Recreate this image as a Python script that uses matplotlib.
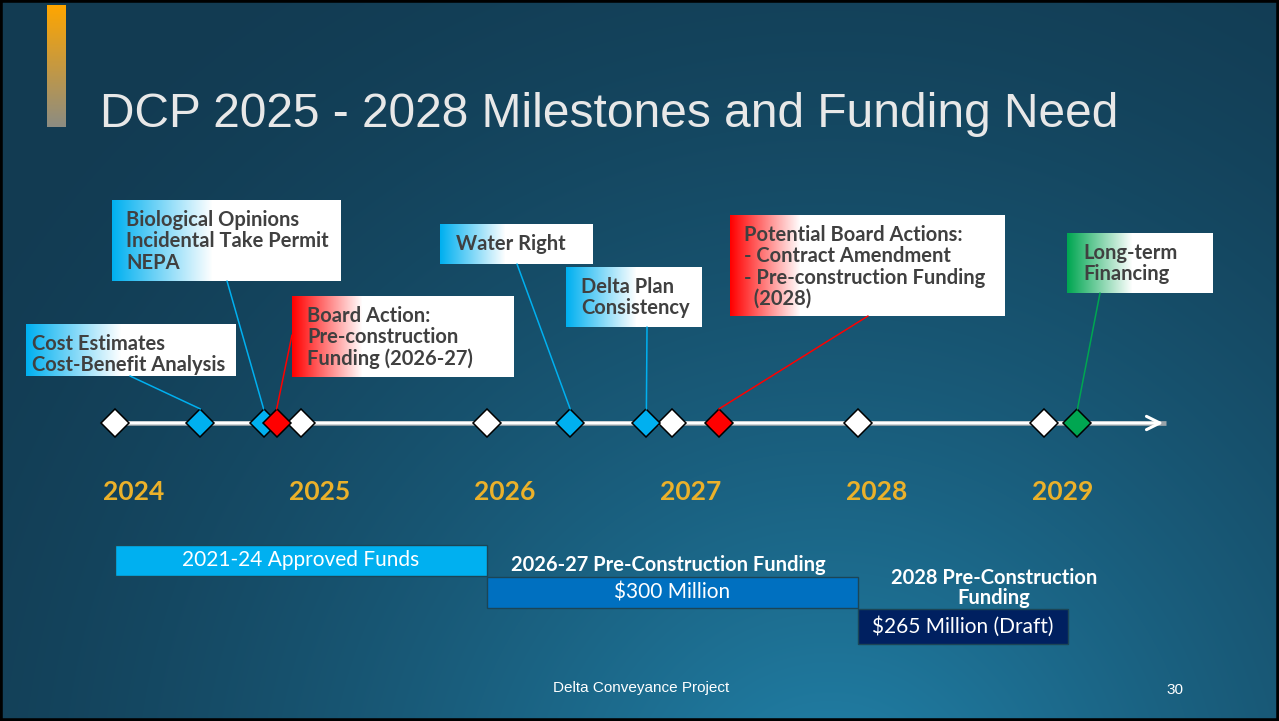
import numpy as np
import matplotlib
matplotlib.use('Agg')
import matplotlib.pyplot as plt
from matplotlib.patches import Rectangle, ConnectionPatch

W, H = 1279, 721

# milestones on the timeline (fractional years)
year_ticks = [2024, 2025, 2026, 2027, 2028, 2029]
event_years = [2024.46, 2024.80, 2024.87, 2026.45, 2026.86, 2027.25, 2029.18]
event_colors = ['#00b0f0', '#00b0f0', '#ff0000', '#00b0f0', '#00b0f0', '#ff0000', '#00a651']
event_labels = [
    'Cost Estimates\nCost-Benefit Analysis',
    'Biological Opinions\nIncidental Take Permit\nNEPA',
    'Board Action:\nPre-construction\nFunding (2026-27)',
    'Water Right',
    'Delta Plan\nConsistency',
    'Potential Board Actions:\n- Contract Amendment\n- Pre-construction Funding\n  (2028)',
    'Long-term\nFinancing',
]

# funding periods
fund_labels = ['2021-24 Approved Funds', '$300 Million', '$265 Million (Draft)']
fund_titles = ['', '2026-27 Pre-Construction Funding', '2028 Pre-Construction\nFunding']
fund_start = [2024.0, 2026.0, 2028.0]
fund_end = [2026.0, 2028.0, 2029.13]
fund_colors = ['#00b0f0', '#0070c0', '#002060']

# callout boxes in pixels: left, top, right, bottom, leader start x, y, fade px, text pad
boxes = [
    (26, 324, 236, 376, 130, 376, 95, 6),
    (112, 200, 341, 281, 227, 281, 100, 14),
    (292, 296, 514, 377, 292, 335, 70, 15),
    (440, 224, 593, 264, 517, 264, 65, 16),
    (566, 267, 702, 327, 647, 327, 70, 15),
    (730, 215, 1005, 316, 868, 316, 70, 14),
    (1067, 233, 1213, 293, 1100, 293, 65, 16),
]

x0_px, px_per_year = 115, 185.8
line_y = 423

fig = plt.figure(figsize=(W / 100, H / 100), dpi=100)

# background + overlay in pixel coordinates
bg = fig.add_axes([0, 0, 1, 1])
yy, xx = np.mgrid[0:H, 0:W]
d = np.sqrt((xx - 830) ** 2 + (yy - 820) ** 2)
t = np.clip(1 - d / 1050, 0, 1) ** 1.6
dark = np.array([0x12, 0x3b, 0x52]) / 255
light = np.array([0x22, 0x85, 0xad]) / 255
img = dark + t[..., None] * (light - dark)
bg.imshow(img, extent=(0, W, H, 0), aspect='auto', zorder=0)

# orange accent bar
grad = np.linspace(0, 1, 100)[:, None, None]
accent = np.array([1.0, 0.65, 0.0]) * (1 - grad) + np.array([0.55, 0.55, 0.51]) * grad
bg.imshow(accent, extent=(47, 66, 127, 5), aspect='auto', zorder=1)

bg.text(100, 127, 'DCP 2025 - 2028 Milestones and Funding Need', fontsize=34.5,
        family='Liberation Sans', color='#e8e8e8', va='baseline', ha='left', zorder=2)

bg.text(641, 688, 'Delta Conveyance Project', fontsize=11, family='Liberation Sans',
        color='white', ha='center', va='center')
bg.text(1175, 690, '30', fontsize=11, family='Liberation Sans', color='white',
        ha='center', va='center')

for (l, tp, r, b, ax_, ay_, fade, pad), col, lab in zip(boxes, event_colors, event_labels):
    n = r - l
    u = np.arange(n)
    w = np.clip(u / fade, 0, 1)[None, :, None]
    c = np.array(matplotlib.colors.to_rgb(col))
    strip = c * (1 - w) + w
    bg.imshow(strip, extent=(l, r, b, tp), aspect='auto', interpolation='bilinear', zorder=3)
    bg.text(l + pad, tp + 10, lab, fontsize=14.5, family='Lato', fontweight='bold',
            color='#404040', ha='left', va='top', linespacing=1.08, zorder=4)

bg.add_patch(Rectangle((0, 0), W, H, fill=False, edgecolor='black', lw=4, zorder=10))
bg.set_xlim(0, W)
bg.set_ylim(H, 0)
bg.axis('off')

# timeline axes: x in years, y in pixel rows
ax = fig.add_axes([0, 0, 1, 1])
ax.set_facecolor('none')
ax.set_xlim(2024 - x0_px / px_per_year, 2024 + (W - x0_px) / px_per_year)
ax.set_ylim(H, 0)
ax.axis('off')

x_line0 = 2024 - 10 / px_per_year
x_line1 = 2029 + 122 / px_per_year
ax.plot([x_line0, x_line1], [line_y, line_y], color='#9aa4aa', lw=3.4, zorder=2,
        solid_capstyle='butt')
ax.annotate('', xy=(x_line1, line_y), xytext=(x_line0, line_y),
            arrowprops=dict(arrowstyle='->', color='white', lw=2.2, mutation_scale=24),
            zorder=3)

ax.plot(year_ticks, [line_y] * len(year_ticks), 'D', ms=14, mfc='white', mec='black',
        mew=1.1, zorder=5)
for yr, col in zip(event_years, event_colors):
    ax.plot(yr, line_y, 'D', ms=14, mfc=col, mec='black', mew=1.1, zorder=6)

for yr in year_ticks:
    ax.text(yr + 0.1, 492, str(yr), fontsize=19, family='Lato', fontweight='bold',
            color='#ebb12a', ha='center', va='center')

for (l, tp, r, b, sx, sy, fade, pad), yr, col in zip(boxes, event_years, event_colors):
    con = ConnectionPatch(xyA=(sx, sy), coordsA=bg.transData,
                          xyB=(yr, line_y - 14), coordsB=ax.transData,
                          color=col, lw=1.1, zorder=4)
    fig.add_artist(con)

bar_top = [545, 577, 609]
bar_h = [31, 31, 35]
for i in range(3):
    ax.barh(bar_top[i] + bar_h[i] / 2, fund_end[i] - fund_start[i], left=fund_start[i],
            height=bar_h[i], color=fund_colors[i], edgecolor='#1b4556', lw=1, zorder=3)
    mid = (fund_start[i] + fund_end[i]) / 2
    ax.text(mid, bar_top[i] + bar_h[i] / 2, fund_labels[i], fontsize=15, family='Lato',
            color='white', ha='center', va='center', zorder=4)

ax.text((fund_start[1] + fund_end[1]) / 2 - 0.02, 565, fund_titles[1], fontsize=14.5,
        family='Lato', fontweight='bold', color='white', ha='center', va='center')
ax.text(fund_start[2] + 0.73, 588, fund_titles[2], fontsize=14.5, family='Lato',
        fontweight='bold', color='white', ha='center', va='center', linespacing=1.0)

fig.savefig('out.png', dpi=100)
